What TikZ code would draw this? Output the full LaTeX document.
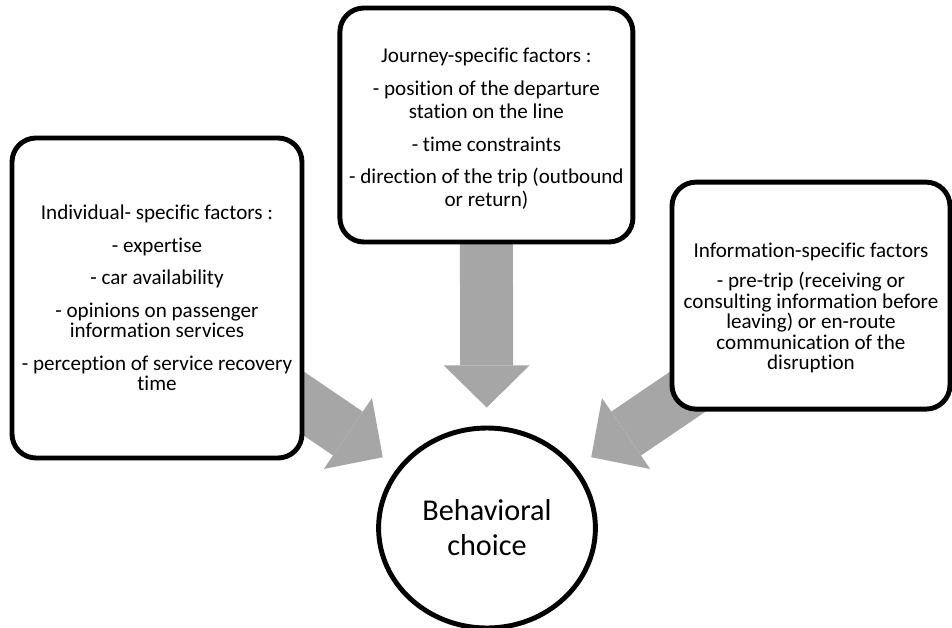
\documentclass[tikz,border=0pt]{standalone}
\usepackage{fontspec}
\setmainfont{Carlito}[Ligatures={NoCommon}]
\usetikzlibrary{arrows.meta}
\usetikzlibrary{shapes.geometric}
\usetikzlibrary{backgrounds}
\definecolor{arrowgray}{HTML}{A6A6A6}

\tikzset{
	factor/.style={draw,line width=3.5pt,rounded corners=0.6cm,fill=white,align=center,inner sep=0pt,font=\fontsize{15pt}{14.5pt}\selectfont},
	bigarrow/.style={draw=arrowgray,line width=37.7pt,-{Triangle[width=61pt,length=30pt,line width'=0pt]},shorten >=12.8pt},
}

\begin{document}
\begin{tikzpicture}
	\useasboundingbox (0,0) rectangle (23.8,-15.7);
	\node[factor,minimum width=7.25cm,minimum height=8cm] (indiv) at (3.925,-7.45) {Individual- specific factors :\\[8.6pt] - expertise\\[8.6pt] - car availability\\[8.6pt] - opinions on passenger\\ information services\\[8.6pt] - perception of service recovery\\ time};
	\node[factor,minimum width=7.325cm,minimum height=5.85cm] (journey) at (12.16,-3.125) {\rule{0pt}{16pt}Journey-specific factors :\\[8.6pt] - position of the departure\\[2pt] station on the line\\[8.6pt] - time constraints\\[8.6pt] - direction of the trip (outbound\\[2pt] or return)};
	\node[factor,minimum width=6.95cm,minimum height=5.675cm] (info) at (20.275,-7.39) {\rule{0pt}{28pt}Information-specific factors\\[7pt] - pre-trip (receiving or\\ consulting information before\\ leaving) or en-route\\ communication of the\\ disruption};
	\node[ellipse,draw,line width=3.5pt,fill=white,minimum width=5.42cm,minimum height=5cm,inner sep=0pt,align=center,font=\fontsize{21.5pt}{25pt}\selectfont] (choice) at (12.175,-13.2) {Behavioral\\ choice};
	\coordinate (indivtail) at (6.8,-9.55);
	\coordinate (infotail) at (17.55,-9.55);
	% converging arrows behind the boxes
	\begin{scope}[on background layer]
		\draw[bigarrow] (indivtail) -- (choice);
		\draw[bigarrow] ([yshift=5pt]journey.south) -- (choice);
		\draw[bigarrow] (infotail) -- (choice);
	\end{scope}
\end{tikzpicture}
\end{document}
